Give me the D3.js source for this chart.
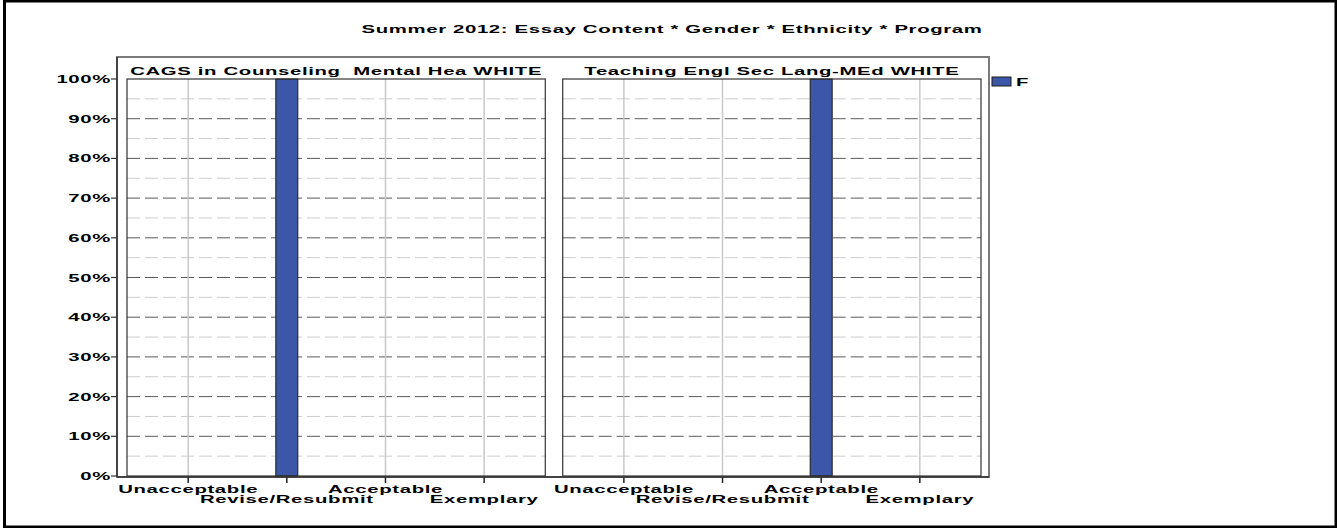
<html><head>
<meta charset="utf-8">
<title>Summer 2012: Essay Content</title>
<script src="https://d3js.org/d3.v7.min.js"></script>
<style>
  body { margin: 0; background: #fff; }
  text { font-family: Arial, "Liberation Sans", sans-serif; font-weight: bold; fill: #000; white-space: pre; letter-spacing: 0.35px; }
</style>
</head>
<body>
<div id="chart"></div>
<script>

var chartTitle = "Summer 2012: Essay Content * Gender * Ethnicity * Program";
var panels = ["CAGS in Counseling  Mental Hea WHITE", "Teaching Engl Sec Lang-MEd WHITE"];
var categories = ["Unacceptable", "Revise/Resubmit", "Acceptable", "Exemplary"];
var seriesName = "F";
// percent of cases per category, one array per panel
var panelValues = [
  [0, 100, 0, 0],
  [0, 0, 100, 0]
];
var yTicks = [0, 10, 20, 30, 40, 50, 60, 70, 80, 90, 100];
var yMinor = [5, 15, 25, 35, 45, 55, 65, 75, 85, 95];

var W = 1337, H = 528;
var SX = 1.85; // the original picture is stretched sideways
var barColor = "#3c57a8";

var svg = d3.select("#chart").append("svg")
  .attr("width", W).attr("height", H);

// outer black frame
svg.append("rect")
  .attr("x", 4.5).attr("y", 1)
  .attr("width", 1331.5).attr("height", 526)
  .attr("fill", "none").attr("stroke", "#000").attr("stroke-width", 3);

function label(x, y, txt, anchor, size) {
  svg.append("text")
    .attr("transform", "translate(" + x + "," + y + ") scale(" + SX + ",1)")
    .attr("text-anchor", anchor)
    .attr("xml:space", "preserve")
    .style("font-size", size + "px")
    .text(txt);
}

var frame = {left: 117, top: 57, right: 989, bottom: 477};

var y = d3.scaleLinear().domain([0, 100]).range([476, 79]);

var px = d3.scaleBand().domain(panels).range([127, 981]).paddingInner(0.04);

// chart frame
svg.append("rect")
  .attr("x", frame.left).attr("y", frame.top)
  .attr("width", frame.right - frame.left).attr("height", frame.bottom - frame.top)
  .attr("fill", "none").attr("stroke", "#7a7a7a").attr("stroke-width", 2);

label(672, 33, chartTitle, "middle", 11);

panels.forEach(function(p, i) {
  var x0 = px(p), bw = px.bandwidth();
  var x = d3.scalePoint().domain(categories).range([x0, x0 + bw]).padding(0.62);
  var g = svg.append("g");

  // minor gridlines
  g.selectAll(".minor").data(yMinor).enter().append("line")
    .attr("x1", x0).attr("x2", x0 + bw)
    .attr("y1", function(d) { return y(d); }).attr("y2", function(d) { return y(d); })
    .attr("stroke", "#cdcdcd").attr("stroke-width", 1).attr("stroke-dasharray", "13,5");

  // major gridlines
  g.selectAll(".major").data(yTicks.slice(1, -1)).enter().append("line")
    .attr("x1", x0).attr("x2", x0 + bw)
    .attr("y1", function(d) { return y(d); }).attr("y2", function(d) { return y(d); })
    .attr("stroke", "#5a5a5a").attr("stroke-width", 1).attr("stroke-dasharray", "13,5");

  // vertical gridlines at categories
  g.selectAll(".vgrid").data(categories).enter().append("line")
    .attr("x1", function(d) { return x(d); }).attr("x2", function(d) { return x(d); })
    .attr("y1", y(100)).attr("y2", y(0))
    .attr("stroke", "#c8c8c8").attr("stroke-width", 1.5);

  // bars
  g.selectAll(".bar").data(categories.filter(function(c, k) { return panelValues[i][k] > 0; }))
    .enter().append("rect")
    .attr("x", function(d) { return x(d) - 11; })
    .attr("y", function(d) { return y(panelValues[i][categories.indexOf(d)]); })
    .attr("width", 22)
    .attr("height", function(d) { return y(0) - y(panelValues[i][categories.indexOf(d)]); })
    .attr("fill", barColor).attr("stroke", "#1a1a1a").attr("stroke-width", 1);

  // panel border
  g.append("rect")
    .attr("x", x0).attr("y", y(100))
    .attr("width", bw).attr("height", y(0) - y(100))
    .attr("fill", "none").attr("stroke", "#333").attr("stroke-width", 1.2);

  label(x0 + bw / 2, 75, p, "middle", 11);

  // x axis ticks and staggered labels
  categories.forEach(function(c, k) {
    svg.append("line")
      .attr("x1", x(c)).attr("x2", x(c))
      .attr("y1", 477).attr("y2", 483)
      .attr("stroke", "#222").attr("stroke-width", 1.5);
    label(x(c), k % 2 === 0 ? 493 : 503, c, "middle", 11);
  });
});

// axes
svg.append("line")
  .attr("x1", frame.left).attr("x2", frame.left)
  .attr("y1", frame.top).attr("y2", frame.bottom)
  .attr("stroke", "#333").attr("stroke-width", 1.5);
svg.append("line")
  .attr("x1", frame.left).attr("x2", frame.right)
  .attr("y1", frame.bottom).attr("y2", frame.bottom)
  .attr("stroke", "#333").attr("stroke-width", 1.5);

yTicks.forEach(function(t) {
  svg.append("line")
    .attr("x1", 111).attr("x2", frame.left)
    .attr("y1", y(t)).attr("y2", y(t))
    .attr("stroke", "#333").attr("stroke-width", 1.2);
  label(111, y(t) + 4, t + "%", "end", 11);
});

// legend
svg.append("rect")
  .attr("x", 992).attr("y", 77).attr("width", 19).attr("height", 9)
  .attr("fill", barColor).attr("stroke", "#1a1a1a").attr("stroke-width", 1);
label(1016, 86, seriesName, "start", 11);

</script>
</body></html>
